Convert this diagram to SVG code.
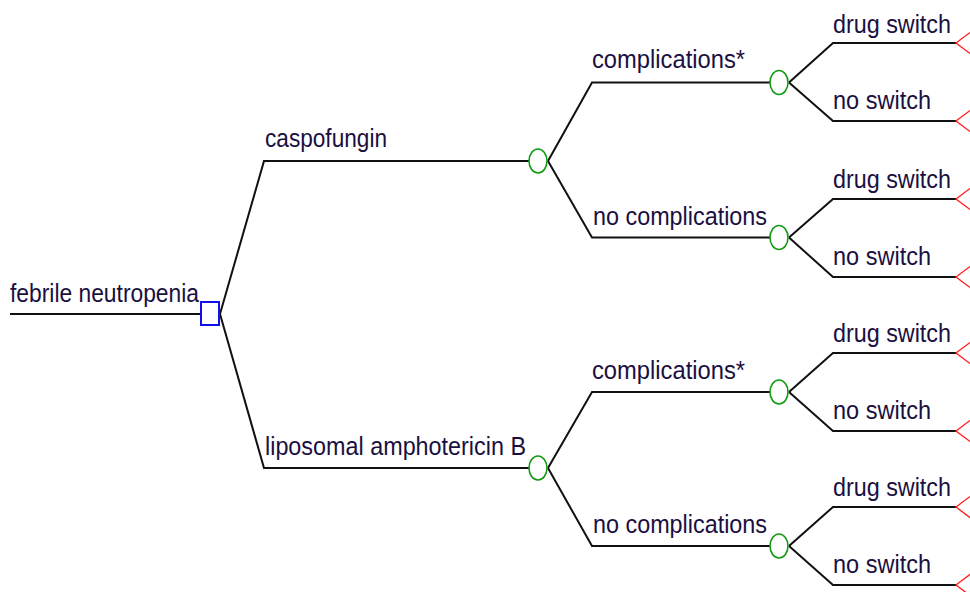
<svg xmlns="http://www.w3.org/2000/svg" width="970" height="592" viewBox="0 0 970 592">
<defs>
<style>
.ln{fill:none;stroke:#111;stroke-width:2;stroke-linejoin:miter}
.ch{fill:#fff;stroke:#129a12;stroke-width:1.6}
.dec{fill:#fff;stroke:#1010ee;stroke-width:2}
.term{fill:none;stroke:#ff2020;stroke-width:1.4}
.lb{font-family:"Liberation Sans",Arial,sans-serif;font-size:26.5px;fill:#1a1040}
</style>
</defs>
<rect width="970" height="592" fill="#fff"/>
<g id="connectors">
<polyline class="ln" points="10,314 201,314"/>
<polyline class="ln" points="220,314 264,161 529,161"/>
<polyline class="ln" points="220,314 264,468 529,468"/>
<polyline class="ln" points="548,161 592,82.5 770,82.5"/>
<polyline class="ln" points="548,161 592,237.5 770,237.5"/>
<polyline class="ln" points="548,468 592,392 770,392"/>
<polyline class="ln" points="548,468 592,546 770,546"/>
<polyline class="ln" points="789,82.5 833,43 956,43"/>
<polyline class="ln" points="789,82.5 833,121 956,121"/>
<polyline class="ln" points="789,237.5 833,199 956,199"/>
<polyline class="ln" points="789,237.5 833,277 956,277"/>
<polyline class="ln" points="789,392 833,353 956,353"/>
<polyline class="ln" points="789,392 833,431 956,431"/>
<polyline class="ln" points="789,546 833,507 956,507"/>
<polyline class="ln" points="789,546 833,585 956,585"/>
<text class="lb" x="10" y="302" textLength="189" lengthAdjust="spacingAndGlyphs">febrile neutropenia</text>
<text class="lb" x="265" y="147" textLength="122" lengthAdjust="spacingAndGlyphs">caspofungin</text>
<text class="lb" x="265" y="455" textLength="261" lengthAdjust="spacingAndGlyphs">liposomal amphotericin B</text>
<text class="lb" x="592" y="68" textLength="153" lengthAdjust="spacingAndGlyphs">complications*</text>
<text class="lb" x="593" y="225" textLength="174" lengthAdjust="spacingAndGlyphs">no complications</text>
<text class="lb" x="592" y="379" textLength="153" lengthAdjust="spacingAndGlyphs">complications*</text>
<text class="lb" x="593" y="533" textLength="174" lengthAdjust="spacingAndGlyphs">no complications</text>
<text class="lb" x="833" y="33" textLength="118" lengthAdjust="spacingAndGlyphs">drug switch</text>
<text class="lb" x="833" y="109" textLength="98" lengthAdjust="spacingAndGlyphs">no switch</text>
<text class="lb" x="833" y="188" textLength="118" lengthAdjust="spacingAndGlyphs">drug switch</text>
<text class="lb" x="833" y="265" textLength="98" lengthAdjust="spacingAndGlyphs">no switch</text>
<text class="lb" x="833" y="342" textLength="118" lengthAdjust="spacingAndGlyphs">drug switch</text>
<text class="lb" x="833" y="419" textLength="98" lengthAdjust="spacingAndGlyphs">no switch</text>
<text class="lb" x="833" y="496" textLength="118" lengthAdjust="spacingAndGlyphs">drug switch</text>
<text class="lb" x="833" y="573" textLength="98" lengthAdjust="spacingAndGlyphs">no switch</text>
</g>
<g id="decision-root"><rect class="dec" x="201" y="302" width="18" height="23"/></g>
<g id="chance-caspofungin"><ellipse class="ch" cx="538" cy="161" rx="9" ry="12"/></g>
<g id="chance-liposomal"><ellipse class="ch" cx="538" cy="468" rx="9" ry="12"/></g>
<g id="chance-c-comp"><ellipse class="ch" cx="779" cy="82.5" rx="9" ry="12"/></g>
<g id="chance-c-nocomp"><ellipse class="ch" cx="779" cy="237.5" rx="9" ry="12"/></g>
<g id="chance-l-comp"><ellipse class="ch" cx="779" cy="392" rx="9" ry="12"/></g>
<g id="chance-l-nocomp"><ellipse class="ch" cx="779" cy="546" rx="9" ry="12"/></g>
<g id="term-1"><polygon class="term" points="956,43 972,31 972,55"/></g>
<g id="term-2"><polygon class="term" points="956,121 972,109 972,133"/></g>
<g id="term-3"><polygon class="term" points="956,199 972,187 972,211"/></g>
<g id="term-4"><polygon class="term" points="956,277 972,265 972,289"/></g>
<g id="term-5"><polygon class="term" points="956,353 972,341 972,365"/></g>
<g id="term-6"><polygon class="term" points="956,431 972,419 972,443"/></g>
<g id="term-7"><polygon class="term" points="956,507 972,495 972,519"/></g>
<g id="term-8"><polygon class="term" points="956,585 972,573 972,597"/></g>
</svg>
